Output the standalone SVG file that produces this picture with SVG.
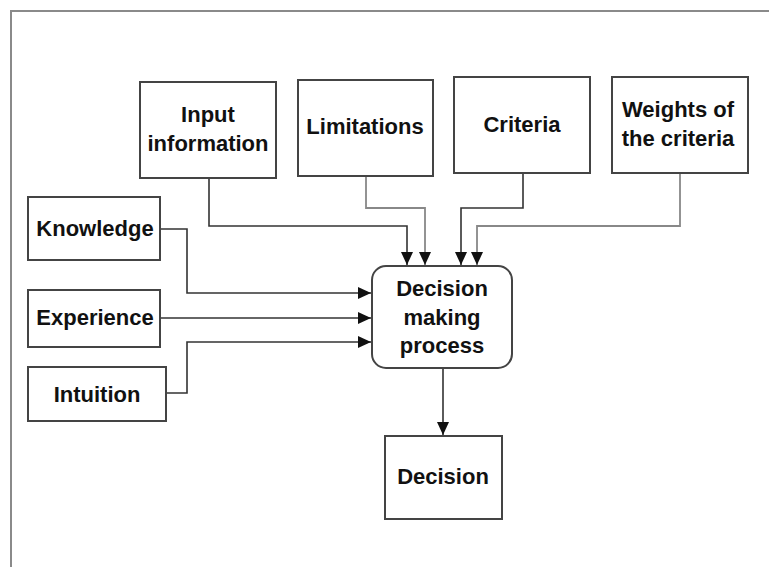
<svg xmlns="http://www.w3.org/2000/svg" width="769" height="567" viewBox="0 0 769 567">
<style>
.box{fill:#fff;stroke:#444;stroke-width:2}
.lbl{font-family:"Liberation Sans",Arial,sans-serif;font-weight:bold;font-size:22px;fill:#111;text-anchor:middle}
.c{fill:none;stroke:#333;stroke-width:1.6}
.cg{fill:none;stroke:#888;stroke-width:1.8}
</style>
<defs>
<marker id="ah" markerWidth="14" markerHeight="14" refX="13" refY="7" orient="auto" markerUnits="userSpaceOnUse">
<path d="M0,1 L13,7 L0,13 Z" fill="#111"/>
</marker>
</defs>
<rect width="769" height="567" fill="#fff"/>
<path d="M11,567 V11 H769" fill="none" stroke="#8a8a8a" stroke-width="2"/>
<g id="connectors">
<path class="c" d="M209,178 V226 H407 V265" marker-end="url(#ah)"/>
<path class="cg" d="M366,176 V208 H425 V265" marker-end="url(#ah)"/>
<path class="c" d="M523,173 V208 H461 V265" marker-end="url(#ah)"/>
<path class="cg" d="M680,173 V226 H477 V265" marker-end="url(#ah)"/>
<path class="c" d="M160,229 H187 V293 H371" marker-end="url(#ah)"/>
<path class="c" d="M160,318 H371" marker-end="url(#ah)"/>
<path class="c" d="M166,393 H187 V342 H371" marker-end="url(#ah)"/>
<path class="c" d="M443,368 V435" marker-end="url(#ah)"/>
</g>
<g id="input-information">
<rect class="box" x="140" y="82" width="136" height="96"/>
<text class="lbl" x="208" y="122">Input</text>
<text class="lbl" x="208" y="151">information</text>
</g>
<g id="limitations">
<rect class="box" x="298" y="80" width="135" height="96"/>
<text class="lbl" x="365" y="134">Limitations</text>
</g>
<g id="criteria">
<rect class="box" x="454" y="77" width="136" height="96"/>
<text class="lbl" x="522" y="132">Criteria</text>
</g>
<g id="weights">
<rect class="box" x="612" y="77" width="136" height="96"/>
<text class="lbl" x="678" y="117">Weights of</text>
<text class="lbl" x="678" y="146">the criteria</text>
</g>
<g id="knowledge">
<rect class="box" x="28" y="197" width="132" height="63"/>
<text class="lbl" x="95" y="236">Knowledge</text>
</g>
<g id="experience">
<rect class="box" x="28" y="290" width="132" height="57"/>
<text class="lbl" x="95" y="325">Experience</text>
</g>
<g id="intuition">
<rect class="box" x="28" y="367" width="138" height="54"/>
<text class="lbl" x="97" y="402">Intuition</text>
</g>
<g id="decision-making-process">
<rect class="box" x="372" y="266" width="140" height="102" rx="14" ry="14"/>
<text class="lbl" x="442" y="296">Decision</text>
<text class="lbl" x="442" y="325">making</text>
<text class="lbl" x="442" y="353">process</text>
</g>
<g id="decision">
<rect class="box" x="385" y="436" width="117" height="83"/>
<text class="lbl" x="443" y="484">Decision</text>
</g>
</svg>
